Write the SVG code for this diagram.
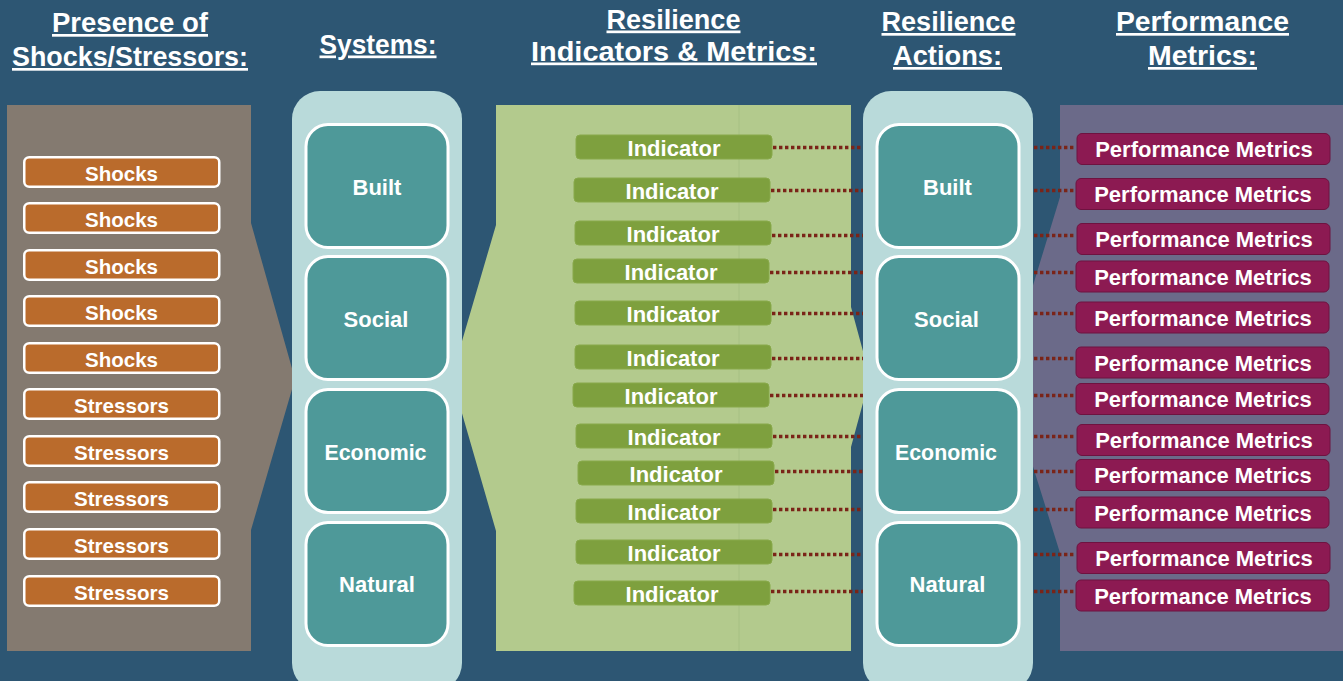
<svg xmlns="http://www.w3.org/2000/svg" width="1343" height="681" viewBox="0 0 1343 681">
<style>
text{font-family:"Liberation Sans",Arial,sans-serif;font-weight:bold;fill:#fff;text-anchor:middle}
.title{font-size:27px;text-decoration:underline}
.sh rect{fill:#BA6B2C;stroke:#fff;stroke-width:2.5}
.sh text{font-size:21px}
.sys{fill:#B9DADA}
.sb rect{fill:#4E9999;stroke:#fff;stroke-width:3}
.sb text{font-size:22px}
.ind rect{fill:#7EA03E;stroke:#88A94A;stroke-width:1}
.ind text{font-size:22px}
.pm rect{fill:#8C1A52;stroke:#6E1240;stroke-width:1}
.pm text{font-size:22px}
.dot{stroke:#7A2418;stroke-width:3.4;stroke-dasharray:3.4 2.6;fill:none}
</style>
<rect x="0" y="0" width="1343" height="681" fill="#2D5673"/>

<g id="titles">
<text class="title" x="130" y="32" textLength="156" lengthAdjust="spacingAndGlyphs">Presence of</text>
<text class="title" x="130" y="66" textLength="236" lengthAdjust="spacingAndGlyphs">Shocks/Stressors:</text>
<text class="title" x="378" y="53.5" textLength="117" lengthAdjust="spacingAndGlyphs">Systems:</text>
<text class="title" x="673.5" y="28.5" textLength="134" lengthAdjust="spacingAndGlyphs">Resilience</text>
<text class="title" x="674" y="60.5" textLength="286" lengthAdjust="spacingAndGlyphs">Indicators &amp; Metrics:</text>
<text class="title" x="948.5" y="31" textLength="134" lengthAdjust="spacingAndGlyphs">Resilience</text>
<text class="title" x="947.5" y="65" textLength="109" lengthAdjust="spacingAndGlyphs">Actions:</text>
<text class="title" x="1202.5" y="31" textLength="173" lengthAdjust="spacingAndGlyphs">Performance</text>
<text class="title" x="1202.5" y="65" textLength="109" lengthAdjust="spacingAndGlyphs">Metrics:</text>
</g>

<g id="panels">
<polygon points="7,105 251,105 251,223 295,379 251,530 251,651 7,651" fill="#847A70"/>
<polygon points="496,105 851,105 851,307 870,377 851,447 851,651 496,651 496,531 451.5,377 496,225" fill="#B3CA8D"/>
<line x1="739" y1="105" x2="739" y2="651" stroke="#A6C083" stroke-width="1"/>
<polygon points="1060,105 1343,105 1343,651 1060,651 1060,553 1005,377 1060,197" fill="#6B6A89"/>
</g>

<g id="shocks" class="sh">
<g id="shock1"><rect x="24.25" y="157.25" width="195" height="29.5" rx="5"/><text x="121.5" y="181" textLength="73" lengthAdjust="spacingAndGlyphs">Shocks</text></g>
<g id="shock2"><rect x="24.25" y="203.25" width="195" height="29.5" rx="5"/><text x="121.5" y="227" textLength="73" lengthAdjust="spacingAndGlyphs">Shocks</text></g>
<g id="shock3"><rect x="24.25" y="250.25" width="195" height="29.5" rx="5"/><text x="121.5" y="274" textLength="73" lengthAdjust="spacingAndGlyphs">Shocks</text></g>
<g id="shock4"><rect x="24.25" y="296.25" width="195" height="29.5" rx="5"/><text x="121.5" y="320" textLength="73" lengthAdjust="spacingAndGlyphs">Shocks</text></g>
<g id="shock5"><rect x="24.25" y="343.25" width="195" height="29.5" rx="5"/><text x="121.5" y="367" textLength="73" lengthAdjust="spacingAndGlyphs">Shocks</text></g>
<g id="stressor1"><rect x="24.25" y="389.25" width="195" height="29.5" rx="5"/><text x="121.5" y="413" textLength="95" lengthAdjust="spacingAndGlyphs">Stressors</text></g>
<g id="stressor2"><rect x="24.25" y="436.25" width="195" height="29.5" rx="5"/><text x="121.5" y="460" textLength="95" lengthAdjust="spacingAndGlyphs">Stressors</text></g>
<g id="stressor3"><rect x="24.25" y="482.25" width="195" height="29.5" rx="5"/><text x="121.5" y="506" textLength="95" lengthAdjust="spacingAndGlyphs">Stressors</text></g>
<g id="stressor4"><rect x="24.25" y="529.25" width="195" height="29.5" rx="5"/><text x="121.5" y="553" textLength="95" lengthAdjust="spacingAndGlyphs">Stressors</text></g>
<g id="stressor5"><rect x="24.25" y="576.25" width="195" height="29.5" rx="5"/><text x="121.5" y="600" textLength="95" lengthAdjust="spacingAndGlyphs">Stressors</text></g>
</g>

<g id="systems">
<rect class="sys" x="292" y="91" width="170" height="600" rx="28"/>
<g class="sb">
<g id="sys-built"><rect x="306" y="124.5" width="142" height="123" rx="22"/><text x="377" y="195">Built</text></g>
<g id="sys-social"><rect x="306" y="256.5" width="142" height="123" rx="22"/><text x="376" y="327">Social</text></g>
<g id="sys-economic"><rect x="306" y="389.5" width="142" height="123" rx="22"/><text x="375.5" y="460" textLength="102" lengthAdjust="spacingAndGlyphs">Economic</text></g>
<g id="sys-natural"><rect x="306" y="522.5" width="142" height="123" rx="22"/><text x="377" y="592">Natural</text></g>
</g>
</g>

<g id="actions">
<rect class="sys" x="863" y="91" width="170" height="600" rx="28"/>
<g class="sb">
<g id="act-built"><rect x="877" y="124.5" width="142" height="123" rx="22"/><text x="947.5" y="195">Built</text></g>
<g id="act-social"><rect x="877" y="256.5" width="142" height="123" rx="22"/><text x="946.5" y="327">Social</text></g>
<g id="act-economic"><rect x="877" y="389.5" width="142" height="123" rx="22"/><text x="946" y="460" textLength="102" lengthAdjust="spacingAndGlyphs">Economic</text></g>
<g id="act-natural"><rect x="877" y="522.5" width="142" height="123" rx="22"/><text x="947.5" y="592">Natural</text></g>
</g>
</g>

<g id="connectors">
<line class="dot" x1="773" y1="147.5" x2="863" y2="147.5"/>
<line class="dot" x1="771" y1="190.5" x2="863" y2="190.5"/>
<line class="dot" x1="772" y1="235.5" x2="863" y2="235.5"/>
<line class="dot" x1="770" y1="272.5" x2="863" y2="272.5"/>
<line class="dot" x1="772" y1="313.5" x2="863" y2="313.5"/>
<line class="dot" x1="772" y1="358.5" x2="863" y2="358.5"/>
<line class="dot" x1="770" y1="395.5" x2="863" y2="395.5"/>
<line class="dot" x1="773" y1="436.5" x2="863" y2="436.5"/>
<line class="dot" x1="775" y1="471.5" x2="863" y2="471.5"/>
<line class="dot" x1="773" y1="509.5" x2="863" y2="509.5"/>
<line class="dot" x1="773" y1="554.5" x2="863" y2="554.5"/>
<line class="dot" x1="771" y1="591.5" x2="863" y2="591.5"/>
<line class="dot" x1="1034" y1="147.5" x2="1076" y2="147.5"/>
<line class="dot" x1="1034" y1="190.5" x2="1076" y2="190.5"/>
<line class="dot" x1="1034" y1="235.5" x2="1076" y2="235.5"/>
<line class="dot" x1="1034" y1="272.5" x2="1076" y2="272.5"/>
<line class="dot" x1="1034" y1="313.5" x2="1076" y2="313.5"/>
<line class="dot" x1="1034" y1="358.5" x2="1076" y2="358.5"/>
<line class="dot" x1="1034" y1="395.5" x2="1076" y2="395.5"/>
<line class="dot" x1="1034" y1="436.5" x2="1076" y2="436.5"/>
<line class="dot" x1="1034" y1="471.5" x2="1076" y2="471.5"/>
<line class="dot" x1="1034" y1="509.5" x2="1076" y2="509.5"/>
<line class="dot" x1="1034" y1="554.5" x2="1076" y2="554.5"/>
<line class="dot" x1="1034" y1="591.5" x2="1076" y2="591.5"/>
</g>

<g id="indicators" class="ind">
<g id="ind1"><rect x="576" y="135" width="196" height="24" rx="4"/><text x="674" y="155.5">Indicator</text></g>
<g id="ind2"><rect x="574" y="178" width="196" height="24" rx="4"/><text x="672" y="198.5">Indicator</text></g>
<g id="ind3"><rect x="575" y="221" width="196" height="24" rx="4"/><text x="673" y="241.5">Indicator</text></g>
<g id="ind4"><rect x="573" y="259" width="196" height="24" rx="4"/><text x="671" y="279.5">Indicator</text></g>
<g id="ind5"><rect x="575" y="301" width="196" height="24" rx="4"/><text x="673" y="321.5">Indicator</text></g>
<g id="ind6"><rect x="575" y="345" width="196" height="24" rx="4"/><text x="673" y="365.5">Indicator</text></g>
<g id="ind7"><rect x="573" y="383" width="196" height="24" rx="4"/><text x="671" y="403.5">Indicator</text></g>
<g id="ind8"><rect x="576" y="424" width="196" height="24" rx="4"/><text x="674" y="444.5">Indicator</text></g>
<g id="ind9"><rect x="578" y="461" width="196" height="24" rx="4"/><text x="676" y="481.5">Indicator</text></g>
<g id="ind10"><rect x="576" y="499" width="196" height="24" rx="4"/><text x="674" y="519.5">Indicator</text></g>
<g id="ind11"><rect x="576" y="540" width="196" height="24" rx="4"/><text x="674" y="560.5">Indicator</text></g>
<g id="ind12"><rect x="574" y="581" width="196" height="24" rx="4"/><text x="672" y="601.5">Indicator</text></g>
</g>

<g id="performance" class="pm">
<g id="pm1"><rect x="1077" y="133.5" width="253" height="31" rx="5"/><text x="1204" y="157">Performance Metrics</text></g>
<g id="pm2"><rect x="1076" y="178.5" width="253" height="31" rx="5"/><text x="1203" y="202">Performance Metrics</text></g>
<g id="pm3"><rect x="1077" y="223.5" width="253" height="31" rx="5"/><text x="1204" y="247">Performance Metrics</text></g>
<g id="pm4"><rect x="1076" y="261" width="253" height="31" rx="5"/><text x="1203" y="284.5">Performance Metrics</text></g>
<g id="pm5"><rect x="1076" y="302" width="253" height="31" rx="5"/><text x="1203" y="325.5">Performance Metrics</text></g>
<g id="pm6"><rect x="1076" y="347" width="253" height="31" rx="5"/><text x="1203" y="370.5">Performance Metrics</text></g>
<g id="pm7"><rect x="1076" y="383.5" width="253" height="31" rx="5"/><text x="1203" y="407">Performance Metrics</text></g>
<g id="pm8"><rect x="1077" y="424.5" width="253" height="31" rx="5"/><text x="1204" y="448">Performance Metrics</text></g>
<g id="pm9"><rect x="1076" y="459.5" width="253" height="31" rx="5"/><text x="1203" y="483">Performance Metrics</text></g>
<g id="pm10"><rect x="1076" y="497" width="253" height="31" rx="5"/><text x="1203" y="520.5">Performance Metrics</text></g>
<g id="pm11"><rect x="1077" y="542.5" width="253" height="31" rx="5"/><text x="1204" y="566">Performance Metrics</text></g>
<g id="pm12"><rect x="1076" y="580" width="253" height="31" rx="5"/><text x="1203" y="603.5">Performance Metrics</text></g>
</g>
</svg>
